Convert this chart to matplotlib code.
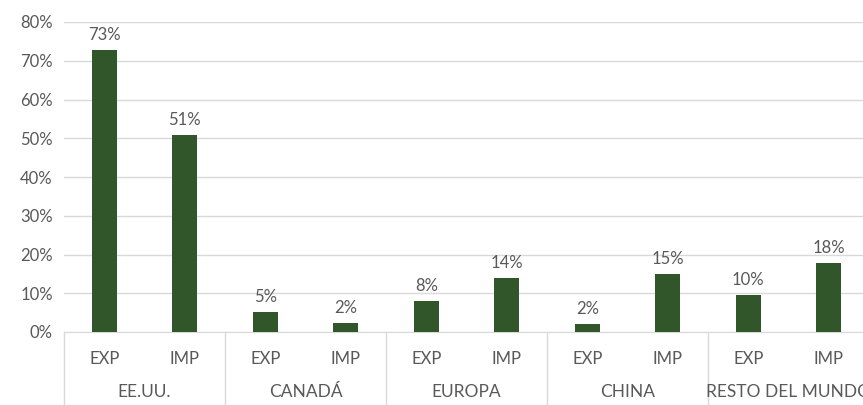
import matplotlib.pyplot as plt
from matplotlib.ticker import FuncFormatter

regions = ['EE.UU.', 'CANADÁ', 'EUROPA', 'CHINA', 'RESTO DEL MUNDO']
flows = ['EXP', 'IMP']
exp_vals = [72.8, 5.2, 7.9, 2.1, 9.5]
imp_vals = [50.8, 2.3, 14.0, 15.0, 17.8]
exp_labels = ['73%', '5%', '8%', '2%', '10%']
imp_labels = ['51%', '2%', '14%', '15%', '18%']

bar_color = '#30562A'
text_color = '#595959'
grid_color = '#D9D9D9'

plt.rcParams['font.family'] = ['Lato', 'DejaVu Sans']

fig = plt.figure(figsize=(8.63, 4.05), dpi=100)
ax = fig.add_axes([64 / 863, 73 / 405, 805 / 863, 310 / 405])

values = []
labels = []
ticks = []
for exp_v, imp_v, exp_l, imp_l in zip(exp_vals, imp_vals, exp_labels, imp_labels):
    values += [exp_v, imp_v]
    labels += [exp_l, imp_l]
    ticks += flows
x = list(range(len(values)))

bars = ax.bar(x, values, width=0.31, color=bar_color, zorder=3)
for b, lab in zip(bars, labels):
    ax.annotate(lab, (b.get_x() + b.get_width() / 2, b.get_height()),
                xytext=(0, 5), textcoords='offset points', ha='center', va='bottom',
                fontsize=12, color=text_color)

ax.set_xlim(-0.5, len(values) - 0.5)
ax.set_ylim(0, 80)
ax.set_yticks(range(0, 81, 10))
ax.yaxis.set_major_formatter(FuncFormatter(lambda v, p: f'{v:.0f}%'))
ax.grid(axis='y', color=grid_color, linewidth=1, zorder=0)
ax.set_xticks(x)
ax.set_xticklabels(ticks)
ax.tick_params(axis='x', length=0, pad=14, labelsize=12, labelcolor=text_color)
ax.tick_params(axis='y', length=0, pad=8, labelsize=12, labelcolor=text_color)
for s in ['top', 'right', 'left']:
    ax.spines[s].set_visible(False)
ax.spines['bottom'].set_color(grid_color)

# group separators and labels
for i, reg in enumerate(regions):
    left = 2 * i - 0.5
    ax.plot([left, left], [0, -0.235], transform=ax.get_xaxis_transform(),
            color=grid_color, linewidth=1, clip_on=False)
    ax.text(2 * i + 0.5, -0.195, reg, transform=ax.get_xaxis_transform(),
            ha='center', va='center', fontsize=12.5, color=text_color)

fig.savefig('out.png', dpi=100)
